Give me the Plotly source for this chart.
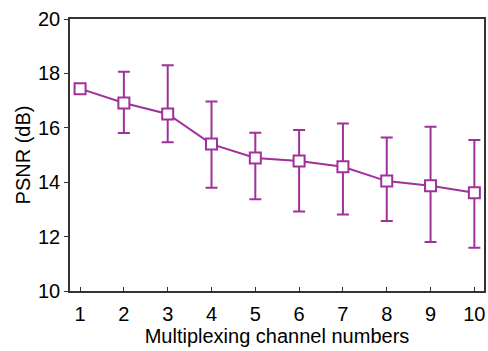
import plotly.graph_objects as go

channels = [1, 2, 3, 4, 5, 6, 7, 8, 9, 10]
psnr = [17.44, 16.91, 16.51, 15.40, 14.89, 14.78, 14.57, 14.04, 13.87, 13.61]
upper = [17.52, 18.06, 18.30, 16.97, 15.82, 15.92, 16.16, 15.64, 16.04, 15.55]
lower = [17.36, 15.81, 15.47, 13.80, 13.37, 12.92, 12.81, 12.57, 11.80, 11.59]

err_plus = [u - v for u, v in zip(upper, psnr)]
err_minus = [v - l for v, l in zip(psnr, lower)]

color = "#A0309A"

fig = go.Figure()
fig.add_trace(go.Scatter(
    x=channels, y=psnr, mode="lines+markers",
    line=dict(color=color, width=2),
    marker=dict(symbol="square", size=11, color="white", line=dict(color=color, width=2)),
    error_y=dict(type="data", symmetric=False, array=err_plus, arrayminus=err_minus,
                 color=color, thickness=2, width=6),
    showlegend=False,
))

fig.update_layout(
    width=488, height=351,
    margin=dict(l=70, r=2, t=19, b=60),
    paper_bgcolor="white", plot_bgcolor="white",
    font=dict(family="Liberation Sans, Arial, sans-serif", size=20, color="black"),
)
fig.update_xaxes(
    range=[0.77, 10.22], tickvals=channels, ticks="inside", ticklen=4, tickcolor="#333",
    showline=True, linecolor="#333", linewidth=1.5, mirror=True, showgrid=False, zeroline=False,
    title=dict(text="Multiplexing channel numbers", font=dict(size=20), standoff=4),
    tickfont=dict(size=20), ticklabelstandoff=4,
)
fig.update_yaxes(
    range=[10, 20], tickvals=[10, 12, 14, 16, 18, 20], ticks="outside", ticklen=4, tickcolor="#333",
    showline=True, linecolor="#333", linewidth=1.5, mirror=True, showgrid=False, zeroline=False,
    title=dict(text="PSNR (dB)", font=dict(size=20), standoff=2),
    tickfont=dict(size=20),
)

fig.write_html("out.html", config={"displayModeBar": False},
               post_script="document.body.style.margin='0';document.body.style.overflow='hidden';")
